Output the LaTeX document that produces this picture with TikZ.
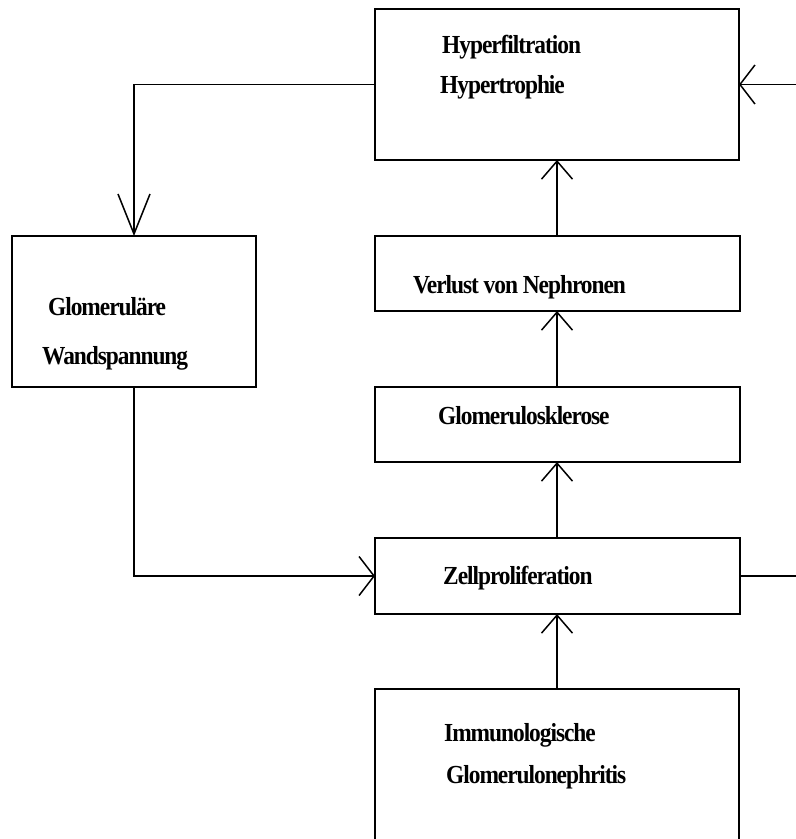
\documentclass[tikz,border=0pt]{standalone}
\usepackage{fontspec}
\setmainfont{Liberation Serif}[LetterSpace=-4,FakeStretch=0.9]
\usetikzlibrary{arrows.meta}
\newcommand{\lblfont}{\bfseries\fontsize{26}{30}\selectfont}
\tikzset{
  box/.style={draw, line width=1.5pt, inner sep=0pt, outer sep=0pt, anchor=north west, rectangle},
  lbl/.style={anchor=base west, inner sep=0pt, font=\lblfont},
  conn/.style={line width=1.5pt},
  uptip/.style={-{Straight Barb[length=18pt,width=31pt,line width=1.5pt]}},
  sidetip/.style={-{Straight Barb[length=15pt,width=39pt,line width=1.5pt]}},
  downtip/.style={-{Straight Barb[length=40pt,width=32pt,line width=1.5pt]}}
}
\begin{document}
\begin{tikzpicture}[x=1pt,y=-1pt]
\path[use as bounding box] (0,0) rectangle (796,839);
\clip (0,0) rectangle (796,839);
\fill[white] (0,0) rectangle (796,839);
% boxes
\node[box, minimum width=364pt, minimum height=151pt] (top) at (375,9) {};
\node[box, minimum width=244pt, minimum height=151pt] (glom) at (12,236) {};
\node[box, minimum width=365pt, minimum height=75pt] (verl) at (375,236) {};
\node[box, minimum width=365pt, minimum height=75pt] (skl) at (375,387) {};
\node[box, minimum width=365pt, minimum height=76pt] (zell) at (375,538) {};
\node[box, minimum width=364pt, minimum height=220pt] (imm) at (375,689) {};
% labels
\node[lbl] (t1) at (442,53) {Hyperfiltration};
\node[lbl] (t2) at (440,93) {Hypertrophie};
\node[lbl] (g1) at (48,315) {Glomeruläre};
\node[lbl] (g2) at (42,364) {Wandspannung};
\node[lbl] (v1) at (413,293) {Verlust von Nephronen};
\node[lbl] (s1) at (438,424) {Glomerulosklerose};
\node[lbl] (z1) at (443,584) {Zellproliferation};
\node[lbl] (i1) at (444,741) {Immunologische};
\node[lbl] (i2) at (446,783) {Glomerulonephritis};
% connectors
\coordinate (zr) at (812,0);
\draw[conn, uptip] (top.south |- verl.north) -- (top.south);
\draw[conn, uptip] (top.south |- skl.north) -- (top.south |- verl.south);
\draw[conn, uptip] (top.south |- zell.north) -- (top.south |- skl.south);
\draw[conn, uptip] (imm.north) -- (imm.north |- zell.south);
\draw[conn, downtip] (top.west) -| (glom.north);
\draw[conn, sidetip] (glom.south) |- (zell.west);
\draw[conn, sidetip] (zell.east) -- (zell.east -| zr) |- (top.east);
\end{tikzpicture}
\end{document}
